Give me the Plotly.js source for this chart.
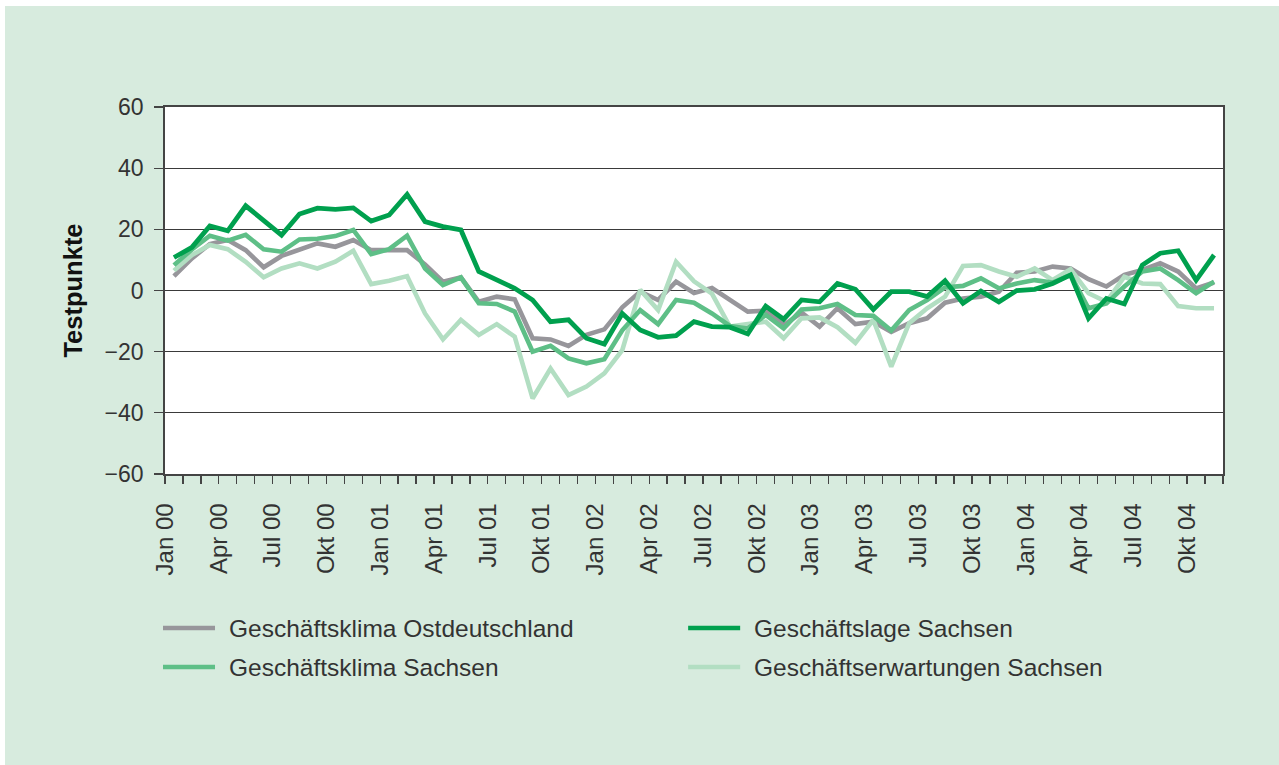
<!DOCTYPE html>
<html>
<head>
<meta charset="utf-8">
<script src="https://cdn.plot.ly/plotly-3.0.1.min.js"></script>
<style>
html,body{margin:0;padding:0;background:#ffffff;}
#chart{position:absolute;left:5px;top:6px;width:1274px;height:759px;}
</style>
</head>
<body>
<div id="chart"></div>
<script>
// Months Jan 00 .. Nov 04 (59 points)
const tickLabels = ["Jan 00","Apr 00","Jul 00","Okt 00","Jan 01","Apr 01","Jul 01","Okt 01","Jan 02","Apr 02","Jul 02","Okt 02","Jan 03","Apr 03","Jul 03","Okt 03","Jan 04","Apr 04","Jul 04","Okt 04"];

const seriesNames = ["Geschäftsklima Ostdeutschland","Geschäftslage Sachsen","Geschäftsklima Sachsen","Geschäftserwartungen Sachsen"];

const klimaOst = [4.7,10.5,15.2,16.5,13.2,7.6,11.3,13.5,15.4,14.3,16.5,13.2,13.2,13.2,8.5,2.9,4.3,-3.7,-2.0,-2.9,-15.6,-16.0,-18.1,-14.5,-12.7,-5.5,-0.4,-3.1,2.9,-0.8,0.8,-2.9,-6.9,-6.6,-11.3,-7.2,-11.8,-5.8,-11.0,-10.2,-13.5,-10.7,-9.1,-4.0,-2.6,-2.0,-0.4,5.8,6.2,7.8,7.2,3.7,1.3,5.1,6.7,8.9,6.2,0.7,2.6];

const lageSachsen = [10.8,14.1,21.1,19.5,27.7,23.0,18.1,25.0,26.9,26.5,27.0,22.7,24.7,31.4,22.5,20.9,19.8,6.2,3.4,0.7,-3.1,-10.2,-9.6,-15.6,-17.5,-7.5,-12.9,-15.3,-14.8,-10.2,-11.8,-12.0,-14.2,-5.1,-9.4,-3.1,-3.7,2.3,0.4,-6.2,-0.4,-0.4,-2.0,3.2,-4.2,-0.2,-3.7,0.0,0.4,2.3,5.1,-9.1,-2.6,-4.4,8.3,12.2,13.0,3.4,11.6];

const klimaSachsen = [8.3,13.4,17.9,16.3,18.2,13.5,12.7,16.7,16.9,17.8,19.8,11.9,13.5,17.9,7.2,1.8,4.3,-4.2,-4.4,-6.9,-20.0,-18.1,-22.2,-23.8,-22.5,-13.0,-6.4,-11.0,-3.1,-4.0,-7.5,-11.6,-12.4,-8.0,-12.4,-6.2,-5.8,-4.4,-8.0,-8.3,-13.1,-6.4,-3.1,1.0,1.5,4.0,0.7,2.3,3.4,2.6,5.1,-5.8,-4.2,1.3,6.2,7.2,3.4,-0.9,2.9];

const erwartungenSachsen = [6.5,11.6,14.9,13.5,9.4,4.3,7.2,8.9,7.2,9.4,13.0,2.1,3.2,4.7,-7.5,-16.0,-9.6,-14.5,-11.0,-15.1,-35.3,-25.5,-34.2,-31.4,-27.1,-19.5,0.2,-6.4,9.4,3.0,-1.0,-11.8,-11.0,-10.2,-15.6,-9.1,-8.8,-12.0,-17.1,-9.6,-24.9,-10.7,-5.8,-2.0,8.0,8.3,6.2,4.5,7.2,3.4,6.9,-0.9,-3.7,4.5,2.3,2.1,-5.1,-5.8,-5.8];

const colors = {ost:"#97969b", lage:"#00a04e", klima:"#5ebf87", erw:"#b2dec2"};

const nPts = klimaOst.length;
const xIdx = klimaOst.map((_, i) => i);

// boundary ticks, label every 3rd boundary
const tickvals = [], ticktext = [];
for (let b = 0; b <= nPts; b++) {
  tickvals.push(b - 0.5);
  ticktext.push(b % 3 === 0 && tickLabels[b/3] ? tickLabels[b/3] : "");
}

function tr(y, name, color, w) {
  return {x: xIdx, y: y, name: name, type: "scatter", mode: "lines",
    line: {color: color, width: w}, showlegend: false, hoverinfo: "skip"};
}
const data = [
  tr(klimaOst, seriesNames[0], colors.ost, 4.6),
  tr(erwartungenSachsen, seriesNames[3], colors.erw, 4.6),
  tr(klimaSachsen, seriesNames[2], colors.klima, 4.6),
  tr(lageSachsen, seriesNames[1], colors.lage, 4.8)
];

// geometry (pixels inside the div)
const M = {l:160, r:56.3, t:101, b:291};
const W = 1274 - M.l - M.r, H = 759 - M.t - M.b;
const px = v => (v - M.l) / W;
const py = v => (759 - M.b - v) / H;

const legendItems = [
  {name: seriesNames[0], color: colors.ost, lx: 158, tx: 222, y: 622},
  {name: seriesNames[1], color: colors.lage, lx: 683, tx: 747, y: 622},
  {name: seriesNames[2], color: colors.klima, lx: 158, tx: 222, y: 661},
  {name: seriesNames[3], color: colors.erw, lx: 683, tx: 747, y: 661}
];
const shapes = legendItems.map(it => ({
  type: "line", xref: "paper", yref: "paper",
  x0: px(it.lx), x1: px(it.lx + 52), y0: py(it.y), y1: py(it.y),
  line: {color: it.color, width: 4.6}
}));
const annotations = legendItems.map(it => ({
  xref: "paper", yref: "paper", x: px(it.tx), y: py(it.y),
  xanchor: "left", yanchor: "middle", showarrow: false,
  text: it.name, font: {family: "Liberation Sans, Arial, sans-serif", size: 24.5, color: "#333333"}
}));

const font = {family: "Liberation Sans, Arial, sans-serif", size: 23, color: "#333333"};

const layout = {
  width: 1274, height: 759,
  paper_bgcolor: "#d7ebde", plot_bgcolor: "#ffffff",
  margin: M,
  showlegend: false,
  font: font,
  xaxis: {
    range: [-0.5, nPts - 0.5], tickmode: "array", tickvals: tickvals, ticktext: ticktext,
    tickangle: -90, ticks: "outside", ticklen: 8, tickwidth: 1.3, tickcolor: "#444444",
    showgrid: false, zeroline: false, showline: true, linecolor: "#444444", linewidth: 1.8,
    mirror: true, tickfont: {family: font.family, size: 24, color: "#333333"},
    ticklabelstandoff: 10, fixedrange: true
  },
  yaxis: {
    range: [-60, 60], tickmode: "array", tickvals: [-60,-40,-20,0,20,40,60],
    ticktext: ["\u221260","\u221240","\u221220","0","20","40","60"],
    ticks: "outside", ticklen: 9, tickwidth: 1.3, tickcolor: "#444444",
    showgrid: true, gridcolor: "#3a3a3a", gridwidth: 1.3, zeroline: false,
    showline: true, linecolor: "#444444", linewidth: 1.8, mirror: true,
    tickfont: {family: font.family, size: 23, color: "#333333"},
    ticklabelstandoff: 6,
    title: {text: "Testpunkte", font: {family: font.family, size: 25.5, color: "#111111", weight: "bold"}, standoff: 15},
    fixedrange: true
  },
  shapes: shapes,
  annotations: annotations
};

Plotly.newPlot("chart", data, layout, {staticPlot: true, displayModeBar: false});
</script>
</body>
</html>
